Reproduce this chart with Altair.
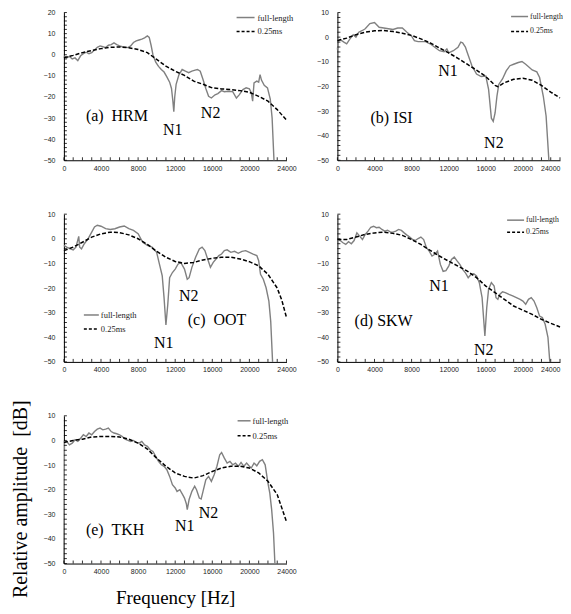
import altair as alt
import pandas as pd

# ---------------- data ----------------
# (a) HRM
a_full_f = [0, 300, 600, 900, 1200, 1500, 1800, 2100, 2400, 2700, 3000, 3300, 3600, 3900, 4200, 4500, 4800, 5100, 5400, 5700, 6000, 6300, 6600, 6900, 7200, 7500, 7800, 8100, 8400, 8700, 9000, 9200, 9400, 9600, 9900, 10200, 10500, 10800, 11100, 11400, 11600, 11750, 11850, 11950, 12100, 12400, 12750, 13100, 13450, 13800, 14150, 14400, 14700, 15000, 15300, 15600, 15900, 16300, 16600, 17000, 17300, 17700, 18200, 18600, 18900, 19300, 19650, 20000, 20200, 20350, 20500, 20800, 21000, 21150, 21300, 21600, 21950, 22250, 22450, 22550, 22650]
a_full_db = [-0.5, -1.5, -0.8, -2, -1.5, -2.8, -0.5, 0.5, 1.2, 0.5, 1, 2.2, 3.5, 4.2, 3.8, 3.4, 4.5, 4.8, 5.6, 4.8, 4.2, 3.8, 3.6, 3.4, 4.2, 5.8, 6.6, 7, 7.4, 8, 8.9, 8.2, 4.5, 0, -3.5, -5.5, -7, -8.2, -10.5, -13, -16, -22, -27, -20, -14, -9.5, -7, -7.8, -8.5, -7.8, -7.3, -7, -7.8, -11.7, -16, -19.7, -20.5, -19, -18.4, -17, -17.5, -17.3, -17.5, -20.5, -19, -16.5, -15.7, -16.2, -18, -22, -13.3, -12.5, -13, -9.4, -12, -14.5, -15.7, -21, -30, -40, -50]
a_sm_f = [0, 1000, 2000, 3000, 4000, 5000, 6000, 7000, 8000, 9000, 10000, 11000, 12000, 13000, 14000, 15000, 16000, 17000, 18000, 19000, 20000, 21000, 22000, 23000, 24000]
a_sm_db = [-1.4, -0.3, 1, 2, 2.9, 3.5, 3.7, 3.3, 2.5, 1, -2.2, -5.4, -7.8, -9.8, -12.5, -14, -15.7, -16.2, -16.5, -17, -17.8, -19.7, -22, -26, -31]

# (b) ISI
b_full_f = [0, 100, 300, 700, 1000, 1300, 1700, 2000, 2300, 2700, 3000, 3500, 4000, 4500, 5000, 5500, 6000, 6500, 7000, 7500, 8000, 8300, 8700, 9000, 9500, 10000, 10500, 11000, 11500, 11800, 12000, 12500, 13000, 13300, 13500, 13800, 14000, 14500, 15000, 15500, 16000, 16300, 16600, 16800, 17000, 17200, 17400, 17800, 18200, 18600, 19000, 19500, 19900, 20300, 20700, 21000, 21500, 21800, 22200, 22500, 22800]
b_full_db = [-5, -1.5, -1, -2, -2.7, -1, 1, 0, 2, 2.7, 3.4, 5.5, 5.9, 4, 3.7, 3.4, 3.1, 3.7, 3.7, 2, 0.4, -1.4, -1.8, -1.8, -1.8, -2.7, -4.1, -5.5, -5.9, -4.8, -6.4, -5.5, -4.1, -2, -2.3, -4, -6.2, -11.6, -15, -16, -15.8, -21.2, -32.9, -34.2, -30.8, -24, -19.2, -17, -13.7, -11.6, -11, -10.3, -9.9, -11, -12.3, -13.3, -14.1, -16.4, -24, -32, -50]
b_sm_f = [0, 1000, 2000, 3000, 4000, 5000, 6000, 7000, 8000, 9000, 10000, 11000, 12000, 13000, 14000, 15000, 16000, 17000, 17300, 18000, 19000, 20000, 21000, 22000, 23000, 24000]
b_sm_db = [-1.4, -0.4, 1, 2, 2.6, 2.7, 2.3, 1.6, 0.7, -0.7, -2.3, -4.4, -6.4, -8.6, -11, -13.4, -16, -19.6, -20.1, -18.5, -17.1, -16.7, -17.5, -19.6, -22.3, -24.7]

# (c) OOT
c_full_f = [0, 300, 700, 1000, 1300, 1600, 1700, 1900, 2200, 2600, 3000, 3300, 3600, 4000, 4500, 5000, 5500, 6000, 6500, 7000, 7500, 8000, 8500, 9000, 9500, 10000, 10300, 10600, 10800, 11000, 11200, 11400, 11700, 12000, 12300, 12600, 13000, 13300, 13500, 13800, 14200, 14600, 14900, 15200, 15500, 15800, 16100, 16400, 16700, 17000, 17300, 17600, 18000, 18400, 18800, 19200, 19600, 20000, 20400, 20800, 21000, 21200, 21500, 21800, 22100, 22300, 22500]
c_full_db = [-2.7, -3.4, -4.1, -4.5, -3.4, 1, -3.4, -4.1, -2, 0, 2.7, 4.8, 5.5, 5.1, 4.1, 3.8, 4.1, 4.8, 5.2, 4.1, 3.4, 2.1, -1.4, -2.7, -3.4, -5.5, -10.3, -15, -24, -35, -26.7, -15.8, -13.7, -12.3, -10.3, -9.6, -12.3, -16.4, -15.8, -11.6, -7.5, -4.1, -3.4, -4.8, -8.2, -11.6, -9.6, -8.2, -6.8, -6.2, -4.8, -4.5, -5.5, -5.1, -5.9, -5.1, -4.8, -5.5, -6.2, -6.8, -8.9, -14.4, -16.4, -19.9, -25.3, -33.6, -50]
c_sm_f = [0, 1000, 2000, 3000, 4000, 5000, 6000, 7000, 8000, 9000, 10000, 11000, 12000, 13000, 14000, 15000, 16000, 17000, 18000, 19000, 20000, 21000, 22000, 23000, 23500, 24000]
c_sm_db = [-4.8, -3.4, -1.4, 0.7, 2, 2.7, 2.5, 1.6, 0, -2.3, -5.1, -7.5, -9.2, -10, -9.6, -8.6, -7.9, -7.5, -7.5, -8.2, -9.3, -11, -14.4, -20, -25, -32]

# (d) SKW
d_full_f = [0, 300, 600, 900, 1200, 1500, 1800, 2100, 2400, 2700, 3000, 3300, 3600, 3900, 4200, 4500, 4800, 5100, 5400, 5700, 6000, 6300, 6600, 6900, 7200, 7500, 7800, 8100, 8400, 8700, 9000, 9300, 9600, 9900, 10200, 10500, 10800, 11100, 11400, 11700, 12000, 12300, 12600, 12900, 13200, 13500, 13800, 14100, 14400, 14700, 15000, 15300, 15600, 15900, 16100, 16300, 16600, 16900, 17100, 17300, 17500, 17800, 18100, 18500, 18900, 19300, 19700, 20000, 20300, 20600, 20900, 21200, 21500, 21800, 22100, 22400, 22700, 22900]
d_full_db = [-0.3, -0.7, -1.6, -2.3, -1.2, -2, -0.7, 2.4, 1.1, -0.3, 1.8, 3.1, 4.7, 5.1, 4.5, 4.7, 3.8, 3.1, 3.5, 2.8, 2.7, 3.1, 3.8, 3.4, 2.4, 1.5, 0.7, -0.3, -0.7, 0.1, 0.7, -0.3, -3.6, -5, -7, -6.3, -5, -10.4, -13.2, -12.9, -11.1, -8.4, -7.4, -9, -10.4, -12.4, -13.8, -15.8, -14.5, -14.2, -15.1, -17.8, -23.9, -39.5, -28, -20.5, -17.8, -19.2, -23.9, -24.6, -22.6, -21.5, -21.9, -22.6, -23.2, -23.9, -24.6, -25.3, -26.6, -24.6, -23.9, -25.3, -28, -31.4, -32, -34.7, -40, -50]
d_sm_f = [0, 1000, 2000, 3000, 4000, 5000, 6000, 7000, 8000, 9000, 10000, 11000, 12000, 13000, 14000, 15000, 16000, 17000, 18000, 19000, 20000, 21000, 22000, 23000, 24000]
d_sm_db = [-0.3, -0.3, 0.7, 1.8, 2.4, 2.7, 2.2, 1.4, -0.3, -2.3, -4.7, -7, -9.1, -11.1, -13.1, -15.8, -19.2, -21.9, -24.6, -27.3, -29, -30.7, -32.7, -34.3, -35.8]

# (e) TKH
e_full_f = [0, 60, 300, 600, 900, 1200, 1500, 1800, 2100, 2400, 2700, 3000, 3300, 3600, 3900, 4200, 4500, 4800, 5100, 5400, 5700, 6000, 6300, 6600, 6900, 7200, 7500, 7800, 8100, 8400, 8700, 9000, 9300, 9600, 9900, 10200, 10500, 10800, 11100, 11400, 11700, 12000, 12200, 12500, 12800, 13000, 13200, 13300, 13500, 13800, 14100, 14300, 14600, 14800, 15000, 15300, 15600, 15900, 16200, 16500, 16800, 17000, 17300, 17600, 17900, 18200, 18500, 18800, 19100, 19400, 19700, 20000, 20200, 20500, 20800, 21100, 21400, 21700, 22000, 22200, 22400, 22600, 22750]
e_full_db = [-50, -0.5, -0.4, -1.8, -1.1, 0.3, -0.4, 0.9, 2.3, 1.6, 3, 2.3, 3.6, 4.6, 5, 4.3, 4.6, 5, 3.6, 3, 2.7, 2.3, 1.6, 0.5, 0, -0.4, 0, -0.8, -1.1, -0.4, -1.8, -2.4, -3.8, -4.5, -6.5, -8.5, -9.9, -10.5, -11.9, -14.6, -18, -19.3, -20.7, -20, -22, -23.4, -25.7, -28.1, -24, -20.7, -18.6, -20, -23.4, -23.8, -20.7, -16, -14.6, -16.6, -13.9, -10.5, -5.8, -4.9, -7.2, -9.2, -8.5, -9.9, -9.2, -10.5, -8.9, -10.5, -9.2, -10.5, -11.2, -9.2, -10.3, -8.5, -7.8, -9.9, -17.3, -21.4, -28.1, -37.6, -50]
e_sm_f = [0, 1000, 2000, 3000, 4000, 5000, 6000, 7000, 8000, 9000, 10000, 11000, 12000, 13000, 14000, 15000, 16000, 17000, 18000, 19000, 20000, 21000, 22000, 23000, 24000]
e_sm_db = [-0.8, 0, 0.5, 1.4, 1.6, 1.6, 1.4, 0.5, -1.1, -3.5, -7.2, -10.5, -13.2, -14.6, -15.3, -14.3, -12.6, -11.2, -10.5, -10.5, -11.2, -13.2, -16.6, -22, -33]

# panel labels and notch labels (text, frequency, dB)
panel_labels = ["(a)\u00a0\u00a0HRM", "(b) ISI", "(c)\u00a0\u00a0OOT", "(d) SKW", "(e)\u00a0\u00a0TKH"]
panel_label_f = [2370, 3570, 13350, 1850, 2370]
panel_label_db = [-29.2, -33, -32.9, -33.4, -36.5]
notch_names = ["N1", "N2"]
notch_f = [[11730, 15820], [11930, 16870], [10760, 13450], [10960, 15780], [13020, 15600]]
notch_db = [[-35.8, -27.8], [-13.7, -43], [-42.5, -23.3], [-19.2, -45.3], [-34.9, -29.5]]
y_tops = [20, 10, 10, 10, 10]

legend_names = ["full-length", "0.25ms"]

x_major = [0, 4000, 8000, 12000, 16000, 20000, 24000]
x_minor = list(range(0, 24001, 1000))

W, H = 223, 148
GRAY = "#808080"
SERIF = "Liberation Serif"
SANS = "Liberation Sans"


def panel(i, full_f, full_db, sm_f, sm_db, legend_off, legend_size=8.5, titles=False, right_col=False):
    ymax = y_tops[i]
    xs = alt.Scale(domain=[0, 24000], nice=False, zero=False)
    ys = alt.Scale(domain=[-50, ymax], nice=False, zero=False)
    y_major = list(range(-50, ymax + 1, 10))
    y_minor = list(range(-50, ymax + 1, 2))

    x_label_align = (alt.condition("datum.value == 24000", alt.value("right"), alt.value("center"))
                     if right_col else "center")
    xaxis = alt.Axis(values=x_major, format="d", labelFontSize=7, labelFont=SANS,
                     labelColor="#222222", ticks=False, grid=False, domainColor="black",
                     domainWidth=1, labelFlush=False, labelPadding=4, labelAlign=x_label_align,
                     title="Frequency [Hz]" if titles else "",
                     titleFont=SERIF, titleFontSize=19, titleFontWeight="normal",
                     titleColor="black", titlePadding=14)
    yaxis = alt.Axis(values=y_major, format="d", labelFontSize=7, labelFont=SANS,
                     labelColor="#222222", ticks=False, grid=False, domainColor="black",
                     domainWidth=1, labelFlush=False, labelPadding=9,
                     title="Relative amplitude\u00a0 [dB]" if titles else "",
                     titleFont=SERIF, titleFontSize=20, titleFontWeight="normal",
                     titleColor="black", titlePadding=13, titleY=H / 2 + 9)

    X = lambda f: alt.X(f, scale=xs, axis=xaxis)
    Y = lambda f: alt.Y(f, scale=ys, axis=yaxis)

    full = pd.DataFrame({"f": full_f, "db": full_db})
    sm = pd.DataFrame({"f": sm_f, "db": sm_db})

    l_full = alt.Chart(full).mark_line(color=GRAY, strokeWidth=1.4).encode(
        x=X("f:Q"), y=Y("db:Q"))
    l_sm = alt.Chart(sm).mark_line(color="black", strokeWidth=1.5, strokeDash=[4, 2]).encode(
        x=X("f:Q"), y=Y("db:Q"))
    xt = alt.Chart(pd.DataFrame({"f": x_minor})).mark_rule(color="black", strokeWidth=0.8).encode(
        x=X("f:Q"), y=alt.value(H), y2=alt.value(H - 3))
    yt = alt.Chart(pd.DataFrame({"db": y_minor})).mark_rule(color="black", strokeWidth=0.8).encode(
        y=Y("db:Q"), x=alt.value(0), x2=alt.value(3))

    lab = alt.Chart(pd.DataFrame({"t": [panel_labels[i]], "f": [panel_label_f[i]], "db": [panel_label_db[i]]})).mark_text(
        align="left", baseline="middle", font=SERIF, fontSize=16, color="black").encode(
        x=X("f:Q"), y=Y("db:Q"), text="t:N")
    notch = alt.Chart(pd.DataFrame({"t": notch_names, "f": notch_f[i], "db": notch_db[i]})).mark_text(
        align="center", baseline="middle", font=SERIF, fontSize=16, color="black").encode(
        x=X("f:Q"), y=Y("db:Q"), text="t:N")

    lx0, lx1, tx, ly0, ly1 = legend_off
    one = pd.DataFrame({"k": [0]})
    leg = [
        alt.Chart(one).mark_rule(color=GRAY, strokeWidth=1.5).encode(
            x=alt.value(lx0), x2=alt.value(lx1), y=alt.value(ly0)),
        alt.Chart(one).mark_rule(color="black", strokeWidth=1.5, strokeDash=[3, 2]).encode(
            x=alt.value(lx0), x2=alt.value(lx1), y=alt.value(ly1)),
        alt.Chart(one).mark_text(align="left", baseline="middle", font=SERIF, fontSize=legend_size, color="#222222").encode(
            x=alt.value(tx), y=alt.value(ly0), text=alt.value(legend_names[0])),
        alt.Chart(one).mark_text(align="left", baseline="middle", font=SERIF, fontSize=legend_size, color="#222222").encode(
            x=alt.value(tx), y=alt.value(ly1), text=alt.value(legend_names[1])),
    ]
    return alt.layer(l_full, l_sm, xt, yt, lab, notch, *leg).properties(width=W, height=H)


pa = panel(0, a_full_f, a_full_db, a_sm_f, a_sm_db, (173, 191, 194, 5, 19))
pb = panel(1, b_full_f, b_full_db, b_sm_f, b_sm_db, (174, 191, 193, 4, 19), legend_size=7.8, right_col=True)
pc = panel(2, c_full_f, c_full_db, c_sm_f, c_sm_db, (20, 35, 37, 101, 115))
pd_ = panel(3, d_full_f, d_full_db, d_sm_f, d_sm_db, (170, 187, 189, 6, 18), legend_size=7.8, right_col=True)
pe = panel(4, e_full_f, e_full_db, e_sm_f, e_sm_db, (174, 187, 189, 5, 20), titles=True)

chart = alt.concat(pa, pb, pc, pd_, pe, columns=2, spacing={"row": 54, "column": 51},
                   bounds="flush").properties(
    padding={"left": 2, "top": 0, "right": 0, "bottom": 0}
).configure_view(strokeWidth=0)

chart.save("out.html", embed_options={"renderer": "svg", "actions": False})
